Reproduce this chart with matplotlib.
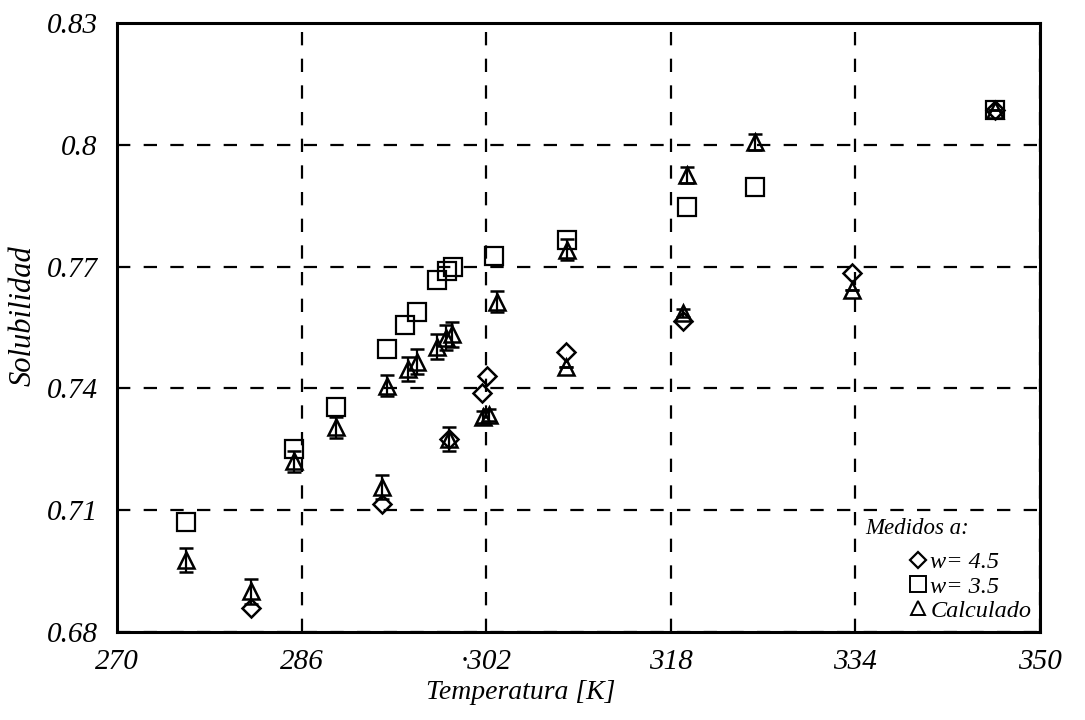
import matplotlib
matplotlib.use("Agg")
import matplotlib.pyplot as plt
from matplotlib.lines import Line2D

# Measured, w = 4.5 (diamonds)
T_w45 = [281.6, 293.0, 298.8, 301.6, 302.1, 308.9, 319.1, 333.7, 346.1]
S_w45 = [0.6860, 0.7115, 0.7275, 0.7388, 0.7430, 0.7489, 0.7567, 0.7685, 0.8086]

# Measured, w = 3.5 (squares)
T_w35 = [276.0, 285.3, 289.0, 293.4, 295.0, 296.0, 297.7, 298.6, 299.1, 302.7, 309.0, 319.4, 325.3, 346.1]
S_w35 = [0.7071, 0.7250, 0.7353, 0.7498, 0.7555, 0.7587, 0.7668, 0.7688, 0.7698, 0.7727, 0.7766, 0.7848, 0.7897, 0.8086]

# Calculated (triangles) with error bars
T_calc = [276.0, 281.6, 285.3, 289.0, 293.0, 293.4, 295.2, 296.0, 297.7, 298.5, 299.0, 298.8, 301.7, 302.2, 302.9, 308.9, 309.0, 319.1, 319.4, 325.3, 333.7, 346.1]
S_calc = [0.6977, 0.6900, 0.7220, 0.7304, 0.7157, 0.7407, 0.7447, 0.7466, 0.7503, 0.7525, 0.7533, 0.7275, 0.7329, 0.7335, 0.7614, 0.7452, 0.7742, 0.7585, 0.7926, 0.8007, 0.7643, 0.8086]
E_calc = [0.0030, 0.0030, 0.0025, 0.0025, 0.0030, 0.0025, 0.0030, 0.0030, 0.0030, 0.0030, 0.0030, 0.0030, 0.0015, 0.0015, 0.0025, 0.0000, 0.0025, 0.0010, 0.0020, 0.0020, 0.0000, 0.0000]

x_ticks = [270, 286, 302, 318, 334, 350]
x_labels = ["270", "286", "\u00b7302", "318", "334", "350"]
y_ticks = [0.68, 0.71, 0.74, 0.77, 0.80, 0.83]
y_labels = ["0.68", "0.71", "0.74", "0.77", "0.8", "0.83"]
legend_labels = ["w= 4.5", "w= 3.5", "Calculado"]

plt.rcParams['font.family'] = ['Liberation Serif', 'DejaVu Serif']

fig = plt.figure(figsize=(10.85, 7.2), dpi=100)
ax = fig.add_axes([117 / 1085, 1 - 632 / 720, (1040 - 117) / 1085, (632 - 23) / 720])

ax.errorbar(T_calc, S_calc, yerr=E_calc, fmt='^', ms=11, mfc='none', mec='black',
            mew=1.8, ecolor='black', elinewidth=1.6, capsize=5, capthick=1.6, zorder=3)
ax.plot(T_w35, S_w35, 's', ms=13, mfc='none', mec='black', mew=1.6, zorder=3)
ax.plot(T_w45, S_w45, 'D', ms=9, mfc='none', mec='black', mew=1.8, zorder=3)

ax.set_xlim(270, 350)
ax.set_ylim(0.68, 0.83)
ax.set_xticks(x_ticks)
ax.set_xticklabels(x_labels, fontsize=21, style='italic')
ax.set_yticks(y_ticks)
ax.set_yticklabels(y_labels, fontsize=21, style='italic')
ax.tick_params(direction='in', length=6, width=1.2, pad=12)
ax.tick_params(axis='y', length=0, pad=14)
ax.grid(True, color='black', linestyle=(0, (6, 6)), linewidth=1.6)
for s in ax.spines.values():
    s.set_linewidth(2.2)

ax.set_xlabel("Temperatura [K]", fontsize=20, style='italic')
ax.xaxis.set_label_coords(0.437, -0.079)
ax.set_ylabel("Solubilidad", fontsize=22, style='italic')
ax.yaxis.set_label_coords(-0.086, 0.52)

handles = [
    Line2D([], [], marker='D', ls='none', ms=8, mfc='none', mec='black', mew=1.6),
    Line2D([], [], marker='s', ls='none', ms=11, mfc='none', mec='black', mew=1.4),
    Line2D([], [], marker='^', ls='none', ms=10, mfc='none', mec='black', mew=1.4),
]
leg = ax.legend(handles, legend_labels, loc='lower left',
                bbox_to_anchor=((911 - 117) / 923, (632 - 622) / 609),
                frameon=False, fontsize=17.5, handlelength=0.6, handletextpad=0.2,
                labelspacing=0.1, borderaxespad=0, borderpad=0)
for t in leg.get_texts():
    t.set_style('italic')
ax.text((865 - 117) / 923, (632 - 528) / 609, "Medidos a:", transform=ax.transAxes,
        fontsize=16.5, style='italic', ha='left', va='center')

fig.savefig("out.png", dpi=100, facecolor='white')
